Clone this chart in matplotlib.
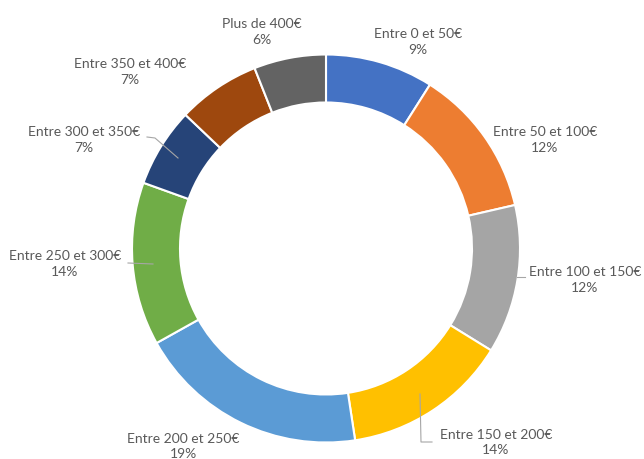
import matplotlib.pyplot as plt

# Share of each price band (percent)
categories = ['Entre 0 et 50€', 'Entre 50 et 100€', 'Entre 100 et 150€',
              'Entre 150 et 200€', 'Entre 200 et 250€', 'Entre 250 et 300€',
              'Entre 300 et 350€', 'Entre 350 et 400€', 'Plus de 400€']
values = [9.0, 12.4, 12.4, 13.8, 19.3, 13.6, 6.6, 6.9, 6.0]
colors = ['#4472C4', '#ED7D31', '#A5A5A5', '#FFC000', '#5B9BD5',
          '#70AD47', '#264478', '#9E480E', '#636363']

# label centres in pixels (x, y from top)
label_pos = [(418, 42), (545, 140), (585, 280), (496, 443), (183, 447),
             (65, 264), (84, 140), (130, 72), (262, 32)]
# leader lines, pixels from top
leaders = {
    2: [(525, 278), (517, 278)],
    3: [(432, 443), (421, 443), (420, 395)],
    5: [(128, 264), (153, 265)],
    6: [(147, 138), (155, 139), (178, 159)],
}

W, H = 644, 460
fig = plt.figure(figsize=(W / 100, H / 100), dpi=100)
ax = fig.add_axes([0, 0, 1, 1])

ax.pie(values, colors=colors, startangle=90, counterclock=False,
       radius=194, center=(326, H - 249.5),
       wedgeprops=dict(width=48, edgecolor='white', linewidth=1.5))
ax.set_xlim(0, W)
ax.set_ylim(0, H)
ax.set_aspect('equal')
ax.axis('off')

txt_color = '#595959'
for i, (cat, v) in enumerate(zip(categories, values)):
    x, y = label_pos[i]
    ax.text(x, H - y, f'{cat}\n{v:.0f}%', ha='center', va='center',
            fontsize=10, color=txt_color, family='Lato', linespacing=1.3)

for i, pts in leaders.items():
    xs = [p[0] for p in pts]
    ys = [H - p[1] for p in pts]
    ax.plot(xs, ys, color='#A6A6A6', linewidth=0.8)

fig.savefig('out.png', dpi=100)
